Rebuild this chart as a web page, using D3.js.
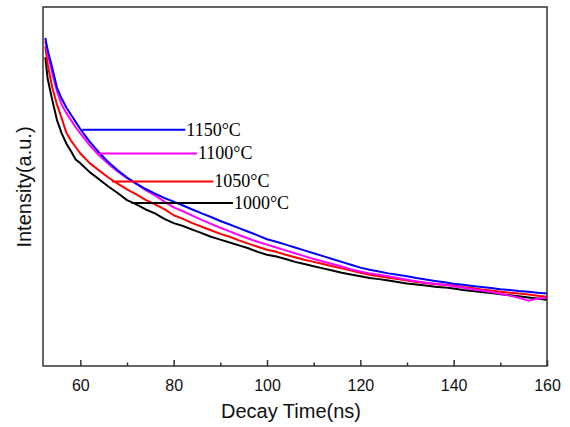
<!DOCTYPE html>
<html>
<head>
<meta charset="utf-8">
<script src="https://cdn.jsdelivr.net/npm/d3@7"></script>
<style>
  body { margin: 0; background: #fff; }
  svg { display: block; }
</style>
</head>
<body>
<script>
// decay time grid (ns), shared by all four curves
var times = [52.5, 53, 54, 55, 56, 57, 58, 59, 60, 62, 64, 66, 68, 70, 72, 74, 76, 78, 80,
	82, 84, 86, 88, 90, 92, 94, 96, 98, 100, 102, 104, 106, 108, 110, 112, 114, 116, 118, 120,
	122, 124, 126, 128, 130, 132, 134, 136, 138, 140, 142, 144, 146, 148, 150, 152, 154, 156, 158, 160];

// intensity readings (a.u.)
var i1150 = [914, 880, 830, 775, 745, 720, 700, 680, 660, 625, 595, 568, 545, 525, 508, 493, 480, 468, 458,
	447, 436, 425, 415, 404, 394, 384, 374, 364, 353, 346, 338, 330, 322, 314, 306, 298, 290, 282, 274,
	268, 263, 258, 254, 250, 245, 241, 237, 233, 229, 226, 223, 220, 217, 214, 212, 209, 207, 204, 202];
var i1100 = [905, 870, 815, 765, 728, 705, 685, 665, 648, 615, 587, 563, 542, 523, 507, 490, 475, 458, 442,
	431, 419, 407, 396, 385, 375, 365, 355, 346, 338, 330, 322, 314, 306, 298, 291, 284, 277, 269, 263,
	258, 254, 250, 245, 240, 236, 232, 229, 226, 222, 218, 214, 210, 206, 201, 196, 190, 182, 188, 190];
var i1050 = [890, 840, 775, 728, 690, 650, 628, 610, 592, 565, 545, 525, 508, 492, 478, 463, 450, 437, 420,
	410, 398, 388, 378, 368, 360, 350, 341, 332, 324, 318, 310, 303, 296, 290, 284, 278, 272, 266, 260,
	254, 250, 246, 242, 238, 234, 231, 228, 226, 224, 220, 217, 213, 210, 207, 204, 202, 199, 196, 193];
var i1000 = [860, 800, 740, 685, 648, 620, 598, 575, 565, 540, 520, 500, 482, 462, 450, 436, 425, 410, 398,
	390, 380, 370, 360, 352, 344, 336, 328, 318, 310, 305, 298, 290, 284, 278, 272, 266, 260, 255, 250,
	245, 242, 238, 234, 230, 227, 224, 221, 219, 216, 212, 209, 206, 203, 200, 197, 194, 191, 188, 184];

var labels = ['1150°C', '1100°C', '1050°C', '1000°C'];
var colors = ['#0000ff', '#ff00ff', '#ff0000', '#000000'];
var xTicks = [60, 80, 100, 120, 140, 160];
var xMinor = [70, 90, 110, 130, 150];

var series = [i1150, i1100, i1050, i1000];

var W = 570, H = 427;
var m = {left: 43, right: 23, top: 7, bottom: 61};

var svg = d3.select('body').append('svg')
	.attr('width', W)
	.attr('height', H);

var x = d3.scaleLinear().domain([52, 160]).range([m.left, W - m.right]);
var y = d3.scaleLinear().domain([0, 1000]).range([H - m.bottom, m.top]);

// curves: draw black first so blue ends up on top
var line = d3.line()
	.x(function(d, i) { return x(times[i]); })
	.y(function(d) { return y(d); });

[3, 2, 1, 0].forEach(function(k) {
	svg.append('path')
		.datum(series[k])
		.attr('fill', 'none')
		.attr('stroke', colors[k])
		.attr('stroke-width', 2)
		.attr('stroke-linejoin', 'round')
		.attr('d', line);
});

// legend lines pointing at each curve (x in ns, y in a.u.)
var legX0 = [60.4, 64, 66.8, 71];
var legX1 = [82.5, 85, 88.5, 92.7];
var legY = [658, 592, 514, 454];
var leg = svg.append('g');
legX0.forEach(function(t, k) {
	leg.append('line')
		.attr('x1', x(t)).attr('x2', x(legX1[k]))
		.attr('y1', y(legY[k])).attr('y2', y(legY[k]))
		.attr('stroke', colors[k])
		.attr('stroke-width', 2);
	leg.append('text')
		.attr('x', x(legX1[k]) + 1)
		.attr('y', y(legY[k]) + 6)
		.attr('font-family', 'Liberation Serif, Times New Roman, serif')
		.attr('font-size', 18)
		.attr('fill', '#000')
		.text(labels[k]);
});

// frame
svg.append('rect')
	.attr('x', m.left).attr('y', m.top)
	.attr('width', W - m.left - m.right)
	.attr('height', H - m.top - m.bottom)
	.attr('fill', 'none')
	.attr('stroke', '#333')
	.attr('stroke-width', 1.5);

// bottom axis, ticks pointing inward
var xAxis = d3.axisBottom(x).tickValues(xTicks).tickSizeInner(-6).tickSizeOuter(0).tickPadding(14);
var gx = svg.append('g')
	.attr('transform', 'translate(0,' + (H - m.bottom) + ')')
	.call(xAxis);
gx.select('.domain').remove();
gx.selectAll('line').attr('stroke', '#333').attr('stroke-width', 1.5);
gx.selectAll('text')
	.attr('font-family', 'Liberation Sans, Arial, sans-serif')
	.attr('font-size', 16)
	.attr('fill', '#111');

var gm = svg.append('g')
	.attr('transform', 'translate(0,' + (H - m.bottom) + ')')
	.call(d3.axisBottom(x).tickValues(xMinor).tickSizeInner(-3.5).tickSizeOuter(0).tickFormat(''));
gm.select('.domain').remove();
gm.selectAll('line').attr('stroke', '#333').attr('stroke-width', 1.5);

// axis titles
svg.append('text')
	.attr('x', (m.left + W - m.right) / 2 - 4)
	.attr('y', 418)
	.attr('text-anchor', 'middle')
	.attr('font-family', 'Liberation Sans, Arial, sans-serif')
	.attr('font-size', 20)
	.attr('fill', '#111')
	.text('Decay Time(ns)');

svg.append('text')
	.attr('transform', 'translate(31,187) rotate(-90)')
	.attr('text-anchor', 'middle')
	.attr('font-family', 'Liberation Sans, Arial, sans-serif')
	.attr('font-size', 20)
	.attr('fill', '#111')
	.text('Intensity(a.u.)');
</script>
</body>
</html>
